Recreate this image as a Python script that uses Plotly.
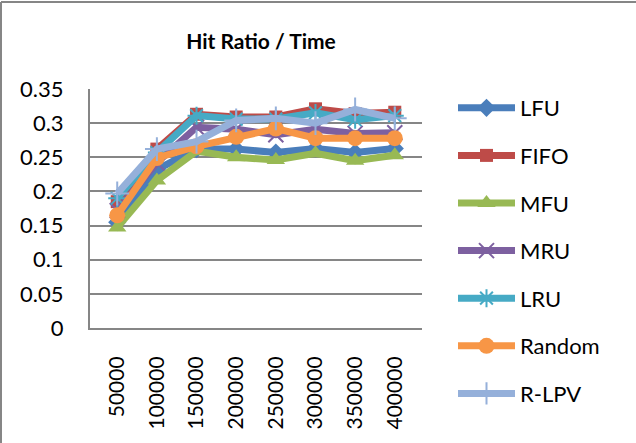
import plotly.graph_objects as go

# Simulated request counts (x axis categories)
time_labels = ["50000", "100000", "150000", "200000", "250000", "300000", "350000", "400000"]

# Hit ratio per replacement policy
lfu = [0.155, 0.232, 0.262, 0.262, 0.257, 0.263, 0.257, 0.263]
fifo = [0.185, 0.262, 0.313, 0.309, 0.309, 0.321, 0.314, 0.316]
mfu = [0.147, 0.216, 0.259, 0.250, 0.246, 0.256, 0.245, 0.253]
mru = [0.172, 0.242, 0.294, 0.291, 0.283, 0.291, 0.285, 0.286]
lru = [0.190, 0.257, 0.311, 0.306, 0.306, 0.315, 0.305, 0.311]
rnd = [0.165, 0.249, 0.266, 0.280, 0.292, 0.278, 0.278, 0.278]
rlpv = [0.197, 0.262, 0.273, 0.304, 0.307, 0.300, 0.320, 0.307]

series = [
    ("LFU", lfu, "#4A7EBB", dict(symbol="diamond", size=14)),
    ("FIFO", fifo, "#BE4B48", dict(symbol="square", size=13)),
    ("MFU", mfu, "#98B954", dict(symbol="triangle-up", size=16)),
    ("MRU", mru, "#7D60A0", dict(symbol="x-thin-open", size=15, line=dict(width=2, color="#7D60A0"))),
    ("LRU", lru, "#46AAC5", dict(symbol="asterisk-open", size=15, line=dict(width=2, color="#46AAC5"))),
    ("Random", rnd, "#F79646", dict(symbol="circle", size=16)),
    ("R-LPV", rlpv, "#95B0DA", dict(symbol="cross-thin-open", size=17, line=dict(width=2, color="#95B0DA"))),
]

FONT = "Lato, 'Open Sans', sans-serif"

fig = go.Figure()
for name, vals, color, marker in series:
    marker = dict(marker)
    marker.setdefault("color", color)
    fig.add_trace(go.Scatter(
        x=time_labels, y=vals, name=name, mode="lines+markers",
        line=dict(color=color, width=7),
        marker=marker,
        legendgroup=name,
    ))

W, H = 636, 443
ml, mr, mt, mb = 90, 214, 89, 115
pw, ph = W - ml - mr, H - mt - mb

fig.update_layout(
    width=W, height=H,
    margin=dict(l=ml, r=mr, t=mt, b=mb, pad=0),
    paper_bgcolor="white", plot_bgcolor="white",
    font=dict(family=FONT, size=22, color="black"),
    title=dict(text="<b>Hit Ratio / Time</b>", x=(ml + pw / 2 + 5) / W, xanchor="center",
               y=1 - 42 / H, yanchor="middle", font=dict(size=21, family=FONT)),
    showlegend=True,
    legend=dict(
        x=1 + (453 - (ml + pw)) / pw, xanchor="left",
        y=1 + (mt - 87) / ph, yanchor="top",
        font=dict(size=22, family=FONT),
        itemwidth=57, tracegroupgap=16,
        maxheight=420,
        bgcolor="rgba(0,0,0,0)",
    ),
    xaxis=dict(
        type="category", tickangle=-90, showgrid=False,
        showline=True, linecolor="#868686", linewidth=2,
        ticks="", ticklabelstandoff=18,
        tickfont=dict(size=21, family=FONT),
    ),
    yaxis=dict(
        range=[0, 0.35], dtick=0.05, tickformat="~g",
        showgrid=True, gridcolor="#868686", gridwidth=2,
        showline=True, linecolor="#868686", linewidth=2,
        ticks="", ticklabelstandoff=20, zeroline=False,
        tickfont=dict(size=22, family=FONT),
    ),
)

# Chart frame along the top and left edges
fig.add_shape(type="line", xref="paper", yref="paper",
              x0=-(ml - 1) / pw, x1=1 + mr / pw, y0=1 + (mt - 2) / ph, y1=1 + (mt - 2) / ph,
              line=dict(color="#868686", width=2))
fig.add_shape(type="line", xref="paper", yref="paper",
              x0=-(ml - 1) / pw, x1=-(ml - 1) / pw, y0=-mb / ph, y1=1 + (mt - 2) / ph,
              line=dict(color="#868686", width=2))

fig.write_html("out.html")
